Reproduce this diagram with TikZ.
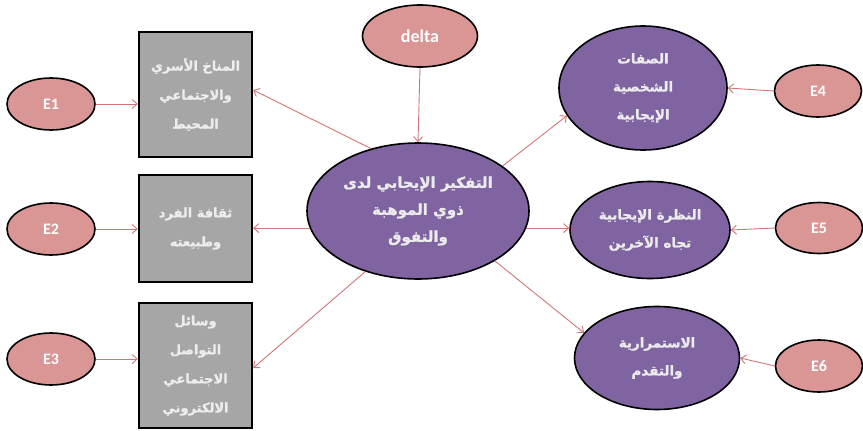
\documentclass[tikz,border=0pt]{standalone}
\usepackage{fontspec}
\TeXXeTstate=1
\newfontfamily\arabicfont[Script=Arabic,BoldFeatures={FakeBold=1.2}]{DejaVu Sans}
\newfontfamily\latinfont{Carlito}
\usetikzlibrary{shapes.geometric,arrows.meta}
\definecolor{errpink}{HTML}{D99694}
\definecolor{latpurple}{HTML}{8064A2}
\definecolor{boxgray}{HTML}{A6A6A6}
\definecolor{arrred}{HTML}{D0757A}
\begin{document}
\begin{tikzpicture}[x=1pt,y=-1pt,
  errnode/.style={ellipse,draw=black,line width=1.6pt,fill=errpink,inner sep=0pt,
    text=white,font=\latinfont\bfseries\fontsize{16}{18}\selectfont},
  latnode/.style={ellipse,draw=black,line width=1.6pt,fill=latpurple,inner sep=0pt,
    text=white!92!black,align=center,font=\arabicfont\bfseries\fontsize{13.5}{28}\selectfont},
  boxnode/.style={rectangle,draw=black,line width=2.4pt,fill=boxgray,inner sep=0pt,
    minimum width=113pt,text=white!93!black,align=center,
    font=\arabicfont\bfseries\fontsize{13}{29}\selectfont},
  conn/.style={draw=arrred,line width=0.9pt,-{Straight Barb[length=5pt,width=9pt]}}]
\useasboundingbox (0,0) rectangle (863,431);

% error terms
\node[errnode,minimum width=88pt,minimum height=52pt] (e1) at (51,104) {E1};
\node[errnode,minimum width=88pt,minimum height=52pt] (e2) at (51,229) {E2};
\node[errnode,minimum width=88pt,minimum height=52pt] (e3) at (51,359) {E3};
\node[errnode,minimum width=87pt,minimum height=52pt] (e4) at (818,91) {E4};
\node[errnode,minimum width=87pt,minimum height=51pt] (e5) at (819,228) {E5};
\node[errnode,minimum width=87pt,minimum height=52pt] (e6) at (819,366) {E6};
\node[errnode,minimum width=115pt,minimum height=62pt,font=\latinfont\bfseries\fontsize{18}{20}\selectfont] (delta) at (420,36) {delta};

% boxes
\node[boxnode,minimum height=125pt] (b1) at (195.5,94.5)
  {\beginR المناخ الأسري\endR\\ \beginR والاجتماعي\endR\\ \beginR المحيط\endR};
\node[boxnode,minimum height=107pt] (b2) at (195.5,228.5)
  {\beginR ثقافة الفرد\endR\\ \beginR وطبيعته\endR};
\node[boxnode,minimum height=125pt] (b3) at (195.5,365.5)
  {\beginR وسائل\endR\\ \beginR التواصل\endR\\ \beginR الاجتماعي\endR\\ \beginR الالكتروني\endR};

% latent variables
\node[latnode,minimum width=222pt,minimum height=136pt,font=\arabicfont\bfseries\fontsize{15}{27}\selectfont] (c) at (418,211)
  {\beginR التفكير الإيجابي لدى\endR\\ \beginR ذوي الموهبة\endR\\ \beginR والتفوق\endR};
\node[latnode,minimum width=168pt,minimum height=124pt] (r1) at (643,88)
  {\beginR الصفات\endR\\ \beginR الشخصية\endR\\ \beginR الإيجابية\endR};
\node[latnode,minimum width=160pt,minimum height=97pt] (r2) at (650,230)
  {\beginR النظرة الإيجابية\endR\\ \beginR تجاه الآخرين\endR};
\node[latnode,minimum width=165pt,minimum height=103pt] (r3) at (657,358)
  {\beginR الاستمرارية\endR\\ \beginR والتقدم\endR};

% connectors
\draw[conn] (e1.east) -- (e1.east -| b1.west);
\draw[conn] (e2.east) -- (e2.east -| b2.west);
\draw[conn] (e3.east) -- (e3.east -| b3.west);
\draw[conn] (e4.west) -- (r1.east);
\draw[conn] (e5.west) -- (r2.east);
\draw[conn] (e6.west) -- (r3.east);
\draw[conn] (delta.south) -- (c.north);
\draw[conn] (c.127) -- (b1.east |- 0,90);
\draw[conn] (c.189) -- (c.189 -| b2.east);
\draw[conn] (c.229) -- (b3.east |- 0,368);
\draw[conn] (c.28) -- (r1.200);
\draw[conn] (c.-33) -- (r3.161);
\draw[conn] (c.-9) -- (c.-9 -| r2.west);
\end{tikzpicture}
\end{document}
